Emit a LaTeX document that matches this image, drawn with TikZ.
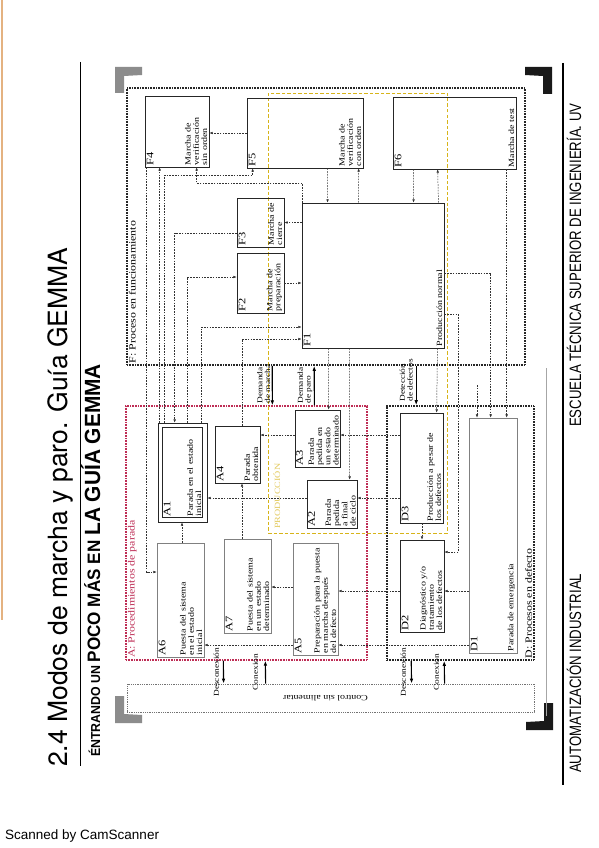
\documentclass[tikz,border=0pt]{standalone}
\usepackage{fontspec}
\setmainfont{Liberation Serif}
\newfontfamily\boxfont[FakeStretch=1.25]{Liberation Serif}
\newfontfamily\titlefont{TeX Gyre Heros}
\newfontfamily\subfont[FakeStretch=0.95]{Liberation Sans}
\newfontfamily\footfont[FakeStretch=0.8]{Liberation Sans}
\newfontfamily\scanfont{Liberation Sans}
\usetikzlibrary{calc,arrows.meta}
\definecolor{parada}{RGB}{190,45,85}
\definecolor{prodyel}{RGB}{215,180,25}
\newcommand{\gemmabox}[8]{%
  \node[#1,minimum width={(#5-#3)*1pt},minimum height={(#6-#4)*1pt}] (#2) at ({(#3+#5)/2},{(#4+#6)/2}) {};
  \node[idtxt,inner sep=#8,anchor=north west] at (#2.south west) {#2};
  \node[desc,inner sep=#8,anchor=south west] at (#2.south east) {#7};}
\begin{document}
\begin{tikzpicture}[x=1pt,y=-1pt,
    stepbox/.style={draw=black!85,line width=0.7pt,inner sep=0pt},
    greybox/.style={stepbox,draw=black!50},
    idtxt/.style={rotate=90,font=\boxfont\fontsize{10}{10}\selectfont},
    desc/.style={rotate=90,align=left,font=\boxfont\fontsize{8}{8.2}\selectfont},
    conn/.style={draw=black!80,line width=0.5pt,dash pattern=on 1.6pt off 1.2pt,-{Latex[length=3.2pt,width=2.6pt]}},
    bigarrow/.style={line width=1.1pt,-{Latex[length=5pt,width=3.6pt]}},
    lbl/.style={rotate=90,align=left,font=\boxfont\fontsize{7.5}{7.8}\selectfont,inner sep=1.5pt},
    framelbl/.style={rotate=90,font=\boxfont\fontsize{9.5}{9.5}\selectfont,inner sep=2.5pt},
    blackframe/.style={draw=black!85,line width=1.6pt,dash pattern=on 0.9pt off 0.7pt,inner sep=0pt},
    redframe/.style={draw=parada,line width=1.3pt,dash pattern=on 0.9pt off 0.7pt,inner sep=0pt},
    greyframe/.style={draw=black!55,line width=0.8pt,dash pattern=on 0.9pt off 0.9pt,inner sep=0pt},
    yelframe/.style={draw=prodyel,line width=0.9pt,dash pattern=on 3.5pt off 2pt,inner sep=0pt},
    corner/.style={fill=#1,draw=none}]
  \fill[white] (0,0) rectangle (599,848);
  \useasboundingbox (0,0) rectangle (599,848);
  \draw[brown!70!orange,line width=2pt,opacity=0.6] (1.5,0) -- (1.5,620);
  % titles
  \node[rotate=90,anchor=base west,inner sep=0pt,font=\titlefont\fontsize{26.5}{26.5}\selectfont] (title) at (67,767) {2.4 Modos de marcha y paro. Guía GEMMA};
  \draw[line width=1pt] (80,62) -- (80,766);
  \node[rotate=90,anchor=base west,inner sep=0pt,font=\subfont\bfseries] (subtitle) at (100,757)
    {{\fontsize{13}{13}\selectfont ÉNTRANDO UN }{\fontsize{18}{18}\selectfont POCO MÁS EN }{\fontsize{22}{22}\selectfont LA GUÍA GEMMA}};
  \draw[line width=1.4pt] (563,63) -- (563,785);
  \node[rotate=90,anchor=base west,inner sep=0pt,font=\footfont\fontsize{16.5}{16.5}\selectfont] (escuela) at (581,427) {ESCUELA TÉCNICA SUPERIOR DE INGENIERÍA. UV};
  \node[rotate=90,anchor=base west,inner sep=0pt,font=\footfont\fontsize{16.5}{16.5}\selectfont] (asignatura) at (581,773) {AUTOMATIZACIÓN INDUSTRIAL};
  \node[anchor=base west,inner sep=0pt,font=\scanfont\fontsize{13.5}{13.5}\selectfont] (scan) at (5,839) {Scanned by CamScanner};
  % corner marks
  \fill[corner=black!45] (115,67) -- (142,67) -- (142,75) -- (124,76) -- (124,93) -- (115,93) -- cycle;
  \fill[corner=black!90] (552,67) -- (525,67) -- (525,75) -- (543,76) -- (543,94) -- (552,94) -- cycle;
  \fill[corner=black!45] (115,723) -- (142,723) -- (142,715) -- (124,714) -- (124,696) -- (115,696) -- cycle;
  \fill[corner=black!90] (553,730) -- (526,730) -- (526,722) -- (544,721) -- (544,703) -- (553,703) -- cycle;
  \draw[black!35,line width=0.5pt] (546,368) -- (546,716);
  % frames
  \node[blackframe,minimum width=398pt,minimum height=277pt] (Fproc) at (326,226.5) {};
  \node[redframe,minimum width=241pt,minimum height=254pt] (Aproc) at (246.5,533) {};
  \node[blackframe,minimum width=147pt,minimum height=254pt] (Dproc) at (460.5,533) {};
  \node[greyframe,minimum width=407pt,minimum height=28pt] (Csin) at (330.5,698) {};
  \node[yelframe,minimum width=179pt,minimum height=440pt] (prod) at (357.5,313) {};
  \node[framelbl,anchor=north west] at (Fproc.south west) {F: Proceso en funcionamiento};
  \node[framelbl,anchor=north west,text=parada] at (Aproc.south west) {A: Procedimientos de parada};
  \node[framelbl,anchor=south west] at (Dproc.south east) {D: Procesos en defecto};
  \node[framelbl,anchor=north west,text=prodyel!70,font=\boxfont\fontsize{8}{8}\selectfont] at ($(prod.south west)+(3,-2)$) {PRODUCCIÓN};
  \node[rotate=180,font=\boxfont\fontsize{8}{8}\selectfont] at ($(Csin.center)+(-5,0)$) {Control sin alimentar};
  % states
  \gemmabox{stepbox}{F4}{145}{96}{209}{167}{Marcha de\\verificación\\sin orden}{2pt}
  \gemmabox{stepbox}{F5}{247}{98}{363}{168}{Marcha de\\verificación\\con orden}{2pt}
  \gemmabox{stepbox}{F6}{393}{97}{516}{169}{Marcha de test}{2pt}
  \gemmabox{stepbox}{F3}{237}{198}{284}{247}{Marcha de\\cierre}{2pt}
  \gemmabox{stepbox}{F2}{237}{253}{284}{313}{Marcha de\\preparación}{2pt}
  \gemmabox{stepbox,line width=0.9pt}{F1}{302}{203}{444}{348}{Producción normal}{2pt}
  \gemmabox{stepbox}{A1}{158}{423}{207}{522}{Parada en el estado\\inicial}{6pt}
  \draw[stepbox] ($(A1.north west)+(5,5)$) rectangle ($(A1.south east)+(-5,-5)$);
  \gemmabox{stepbox}{A4}{215}{426}{260}{483}{Parada\\obtenida}{2pt}
  \gemmabox{stepbox}{A3}{295}{410}{340}{467}{Parada\\pedida en\\un estado\\determinado}{1.5pt}
  \gemmabox{stepbox}{A2}{307}{480}{357}{528}{Parada\\pedida\\a final\\de ciclo}{1.5pt}
  \gemmabox{greybox}{A6}{157}{543}{204}{657}{Puesta del sistema\\en el estado\\inicial}{2pt}
  \gemmabox{greybox}{A7}{224}{539}{271}{633}{Puesta del sistema\\en un estado\\determinado}{2pt}
  \gemmabox{greybox}{A5}{293}{543}{338}{655}{Preparación para la puesta\\en marcha después\\del defecto}{2pt}
  \gemmabox{stepbox}{D3}{400}{413}{443}{523}{Producción a pesar de\\los defectos}{2pt}
  \gemmabox{stepbox}{D2}{400}{540}{444}{632}{Diagnóstico y/o\\tratamiento\\de los defectos}{2pt}
  \gemmabox{greybox}{D1}{469}{418}{517}{653}{Parada de emergencia}{2pt}
  % transitions between frames
  \draw[bigarrow] ($(Fproc.south west)+(146,0)$) -- ($(Aproc.north west)+(147,0)$)
    node[lbl,pos=1,anchor=south west] {Demanda\\de marcha};
  \draw[bigarrow] ($(Aproc.north west)+(189,0)$) -- ($(Fproc.south west)+(188,0)$)
    node[lbl,pos=0,anchor=south west] {Demanda\\de paro};
  \draw[bigarrow] ($(Fproc.south west)+(290,0)$) -- ($(Dproc.north west)+(30,0)$)
    node[lbl,pos=1,anchor=south west,inner sep=3pt] {Detección\\de defectos};
  \draw[bigarrow] ($(Aproc.south west)+(98,0)$) -- ($(Csin.north west)+(97,0)$)
    node[lbl,midway,anchor=south,inner sep=4pt] {Desconexión};
  \draw[bigarrow] ($(Csin.north west)+(139,0)$) -- ($(Aproc.south west)+(140,0)$)
    node[lbl,midway,anchor=south,inner sep=7pt] {Conexión};
  \draw[bigarrow] ($(Dproc.south west)+(25,0)$) -- ($(Csin.north west)+(285,0)$)
    node[lbl,midway,anchor=south,inner sep=5pt] {Desconexión};
  \draw[bigarrow] ($(Csin.north west)+(318,0)$) -- ($(Dproc.south west)+(58,0)$)
    node[lbl,midway,anchor=south,inner sep=5pt] {Conexión};
  % transitions between states
  \draw[conn] (F5.west) -- (F5.west -| F4.east);
  \draw[conn] ($(A1.north west)+(2,0)$) -- ($(F4.south -| A1.north west)+(2,0)$);
  \draw[conn] ($(F4.south west)+(2,0)$) |- ($(A6.west)+(0,-28)$);
  \draw[conn] ($(A1.north west)+(7,0)$) |- ($(F5.south west)+(6,7)$) -- ($(F5.south west)+(6,0)$);
  \draw[conn] ($(F1.north west)+(1,0)$) |- ($(F4.south west)+(52,16)$) -- ($(F4.south west)+(52,0)$);
  \draw[conn] ($(F3.west)+(0,10.5)$) -| ($(A1.north west)+(17,0)$);
  \draw[conn] ($(A1.north west)+(30,0)$) |- ($(F2.west)+(0,-6)$);
  \draw[conn] ($(A1.north west)+(44,0)$) |- ($(F1.west)+(0,51.5)$);
  \draw[conn] ($(A4.north)+(4.5,0)$) |- ($(F1.west)+(0,63.5)$);
  \draw[conn] (F2.east) -- (F2.east -| F1.west);
  \draw[conn] (F3.east -| F1.west) -- (F3.east);
  \draw[conn] ($(F5.south west)+(81,0)$) -- ($(F1.north west)+(26,0)$);
  \draw[conn] ($(F1.north west)+(57,0)$) -- ($(F5.south west)+(112,0)$);
  \draw[conn] ($(F6.south west)+(21,0)$) -- ($(F1.north west)+(112,0)$);
  \draw[conn] ($(F1.north east)+(-6,0)$) -- ($(F6.south west)+(45,0)$);
  \draw[conn] ($(F1.south west)+(27,0)$) -- ($(A3.north west)+(34,0)$);
  \draw[conn] ($(F1.south west)+(48,0)$) -- ($(A2.north west)+(43,0)$);
  \draw[conn] ($(F1.south east)+(-7,0)$) -- ($(D3.north west)+(37,0)$);
  \draw[conn] ($(F1.east)+(0,38.5)$) -| ($(D2.east)+(14,-34)$) -- ($(D2.east)+(0,-34)$);
  \draw[conn] ($(F1.east)+(0,-2.5)$) -| ($(D1.north west)+(22,0)$);
  \draw[conn] ($(F6.south west)+(114,0)$) -- ($(D1.north west)+(38,0)$);
  \coordinate (emerg) at (477,385);
  \draw[conn] (emerg) -- (emerg |- D1.north);
  \draw[conn] ($(A3.west)+(0,-3.5)$) -- ($(A4.east)+(0,-19.5)$);
  \draw[conn] ($(D3.west)+(0,-33)$) -- ($(A3.east)+(0,-3.5)$);
  \draw[conn] ($(A2.west)+(0,-6)$) -- ($(A1.east)+(0,25.5)$);
  \draw[conn] ($(D3.west)+(0,30)$) -- ($(A2.east)+(0,-6)$);
  \draw[conn] ($(A6.north)+(1.5,0)$) -- ($(A1.south)+(-0.5,0)$);
  \draw[conn] ($(A7.north)+(-5.5,0)$) -- ($(A4.south)+(4.5,0)$);
  \draw[conn] ($(A5.west)+(0,-12)$) -- ($(A7.east)+(0,1)$);
  \draw[conn] ($(D2.west)+(0,5)$) -- ($(A5.east)+(0,-8)$);
  \draw[conn] ($(D1.west)+(0,55.5)$) -- ($(D2.east)+(0,5)$);
  \draw[conn] ($(D1.west)+(0,109.5)$) -- ($(A5.east)+(0,46)$);
  \draw[conn] ($(A5.west)+(0,46)$) -- ($(A6.east)+(0,45)$);
  \draw[conn] ($(D3.south)+(0.5,0)$) -- (D2.north);
\end{tikzpicture}
\end{document}
